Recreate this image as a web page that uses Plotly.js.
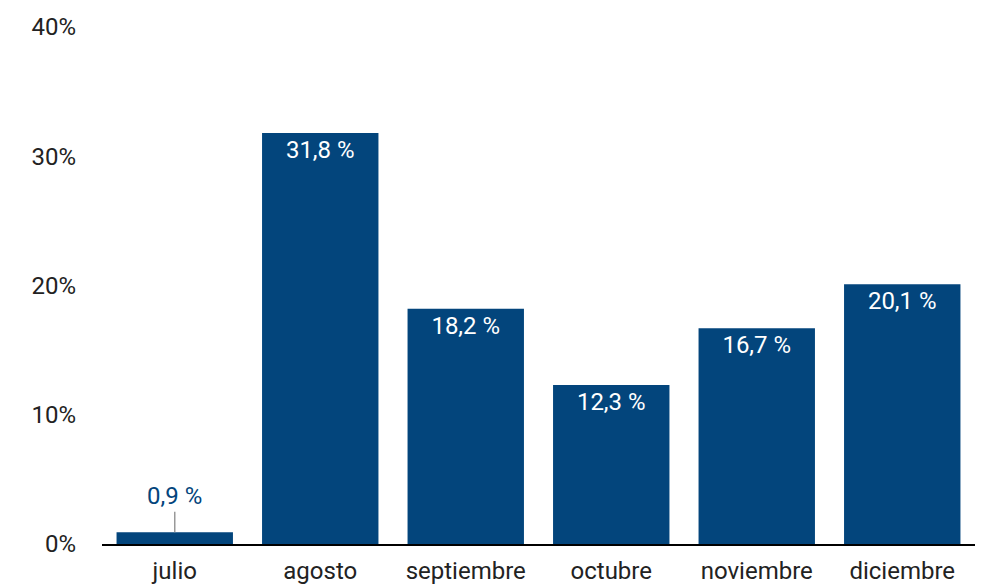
<!DOCTYPE html>
<html>
<head>
<meta charset="utf-8">
<script src="https://cdn.plot.ly/plotly-3.0.1.min.js"></script>
<style>html,body{margin:0;padding:0;background:#fff;}#chart{width:983px;height:587px;}</style>
</head>
<body>
<div id="chart"></div>
<script>
const months = ["julio", "agosto", "septiembre", "octubre", "noviembre", "diciembre"];
const shares = [0.9, 31.8, 18.2, 12.3, 16.7, 20.1];
const yTicks = [0, 10, 20, 30, 40];

const barColor = "#03457c";
const fmt = v => v.toFixed(1).replace(".", ",") + " %";
const insideText = shares.map((v, i) => i === 0 ? "" : fmt(v));

const trace = {
  type: "bar",
  x: months,
  y: shares,
  marker: {color: barColor},
  text: insideText,
  textposition: "inside",
  insidetextanchor: "end",
  textangle: 0,
  insidetextfont: {family: "Roboto", size: 24, color: "#ffffff"},
  cliponaxis: false,
  hoverinfo: "none"
};

const layout = {
  width: 983, height: 587,
  margin: {l: 102, r: 8, t: 27, b: 43},
  paper_bgcolor: "#ffffff", plot_bgcolor: "#ffffff",
  bargap: 0.2,
  showlegend: false,
  font: {family: "Roboto", size: 24, color: "#222222"},
  xaxis: {
    type: "category",
    showline: true, linecolor: "#000000", linewidth: 2,
    ticks: "", showgrid: false, zeroline: false,
    ticklabelstandoff: 4,
    tickfont: {family: "Roboto", size: 24, color: "#222222"}
  },
  yaxis: {
    range: [0, 40],
    tickvals: yTicks,
    ticktext: yTicks.map(t => t + "%"),
    showgrid: false, zeroline: false, showline: false,
    ticks: "", ticklabelstandoff: 25,
    tickfont: {family: "Roboto", size: 24, color: "#222222"}
  },
  annotations: [{
    x: months[0], y: shares[0], xref: "x", yref: "y",
    text: fmt(shares[0]),
    showarrow: true, arrowhead: 0, arrowwidth: 1.5, arrowcolor: "#999999",
    ax: 0, ay: -36, standoff: 0,
    font: {family: "Roboto", size: 24, color: barColor}
  }]
};

Plotly.newPlot("chart", [trace], layout, {staticPlot: true, displayModeBar: false});
</script>
</body>
</html>
